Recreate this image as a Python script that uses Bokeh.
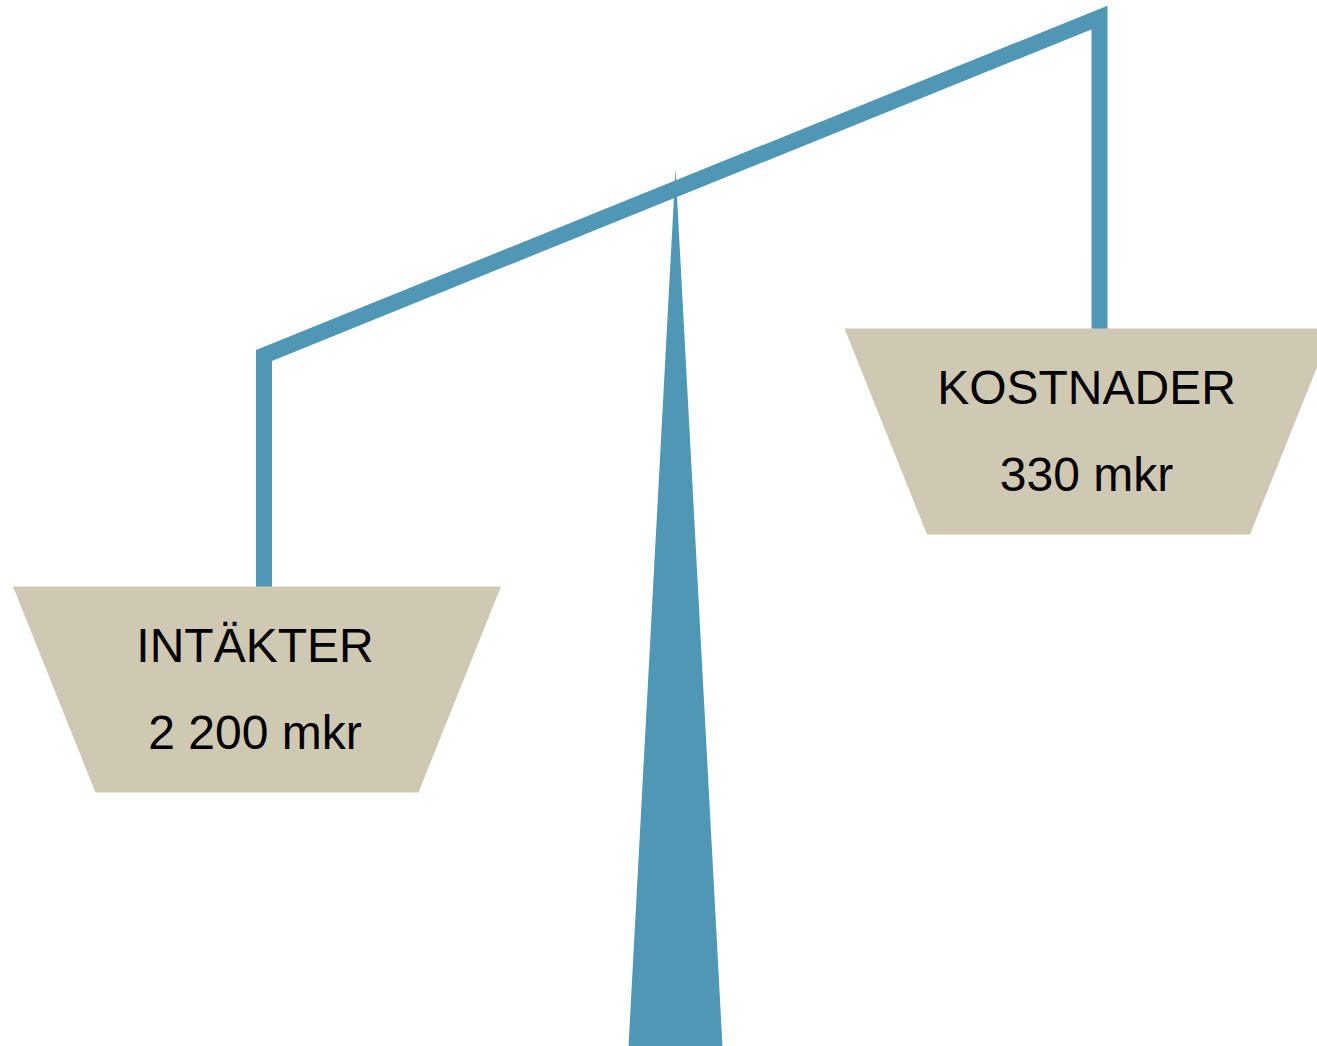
from bokeh.plotting import figure
from bokeh.models import Range1d, ColumnDataSource
from bokeh.embed import file_html
from bokeh.resources import INLINE
from bokeh.core.properties import value

# ---- data ----
categories = ["INTÄKTER", "KOSTNADER"]
amounts = [2200, 330]          # mkr
unit = "mkr"

def fmt(v):
    return f"{v:,}".replace(",", " ") + " " + unit

value_labels = [fmt(v) for v in amounts]

# ---- styles / geometry (screen-pixel coordinates of the drawing) ----
BLUE = "#4F97B4"
BEIGE = "#CFC8B3"

W, H = 1317, 1046

pivot_x = 675
pointer_top = 168
pointer_bottom = 1046
pointer_half_base = 47

arm_x = [263.5, 1099]          # hanger x positions (left, right)
arm_y = [355, 17]              # beam end heights (left lower since heavier)
pan_top = [586, 328]
pan_cx = [256.5, 1088]
pan_h = 206
pan_top_half = 244
pan_bot_half = 161.5
line_w = 16

p = figure(width=W, height=H, output_backend="svg", toolbar_location=None,
           x_range=Range1d(0, W), y_range=Range1d(H, 0),
           x_axis_type=None, y_axis_type=None, min_border=0,
           outline_line_color=None, background_fill_color="white",
           border_fill_color="white")
p.grid.visible = False

# pointer / stand
p.patch([pivot_x, pivot_x + pointer_half_base, pivot_x - pointer_half_base],
        [pointer_top, pointer_bottom, pointer_bottom],
        fill_color=BLUE, line_color=None)

# beam and hangers as one polyline
p.line([arm_x[0], arm_x[0], arm_x[1], arm_x[1]],
       [pan_top[0] + 1, arm_y[0], arm_y[1], pan_top[1] + 1],
       line_color=BLUE, line_width=line_w, line_join="miter", line_cap="butt")

# pans
xs, ys = [], []
for cx, ty in zip(pan_cx, pan_top):
    xs.append([cx - pan_top_half, cx + pan_top_half, cx + pan_bot_half, cx - pan_bot_half])
    ys.append([ty, ty, ty + pan_h, ty + pan_h])
p.patches(xs, ys, fill_color=BEIGE, line_color=None)

# texts
src = ColumnDataSource(dict(
    x=[c - 2 for c in pan_cx] + [c - 2 for c in pan_cx],
    y=[t + 59 for t in pan_top] + [t + 146 for t in pan_top],
    text=categories + value_labels,
))
p.text(x="x", y="y", text="text", source=src, text_align="center",
       text_baseline="alphabetic", text_font=value("Liberation Sans"),
       text_font_size="48px", text_color="#000000")

open("out.html", "w").write(file_html(p, INLINE))
